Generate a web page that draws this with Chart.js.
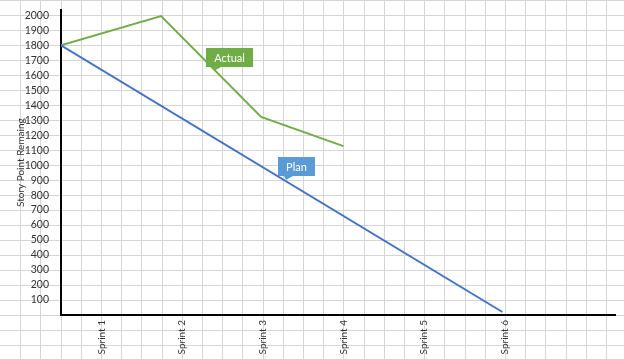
<!DOCTYPE html>
<html><head><meta charset="utf-8">
<script src="https://cdn.jsdelivr.net/npm/chart.js@4"></script>
<style>html,body{margin:0;padding:0;background:#fff}#wrap{width:624px;height:359px;position:relative}</style>
</head><body><div id="wrap"><canvas id="c" width="624" height="359"></canvas></div>
<script>
// ---- data ----
const sprintLabels = ['Sprint 1', 'Sprint 2', 'Sprint 3', 'Sprint 4', 'Sprint 5', 'Sprint 6'];
const sprintPositions = [0.5, 1.5, 2.5, 3.5, 4.5, 5.5];
const yTickValues = [100, 200, 300, 400, 500, 600, 700, 800, 900, 1000, 1100, 1200, 1300, 1400, 1500, 1600, 1700, 1800, 1900, 2000];
const planX = [0, 5.47];
const planY = [1800, 20];
const actualX = [0, 1.24, 2.48, 3.5];
const actualY = [1800, 1995, 1322, 1127];
const calloutTexts = ['Actual', 'Plan'];

// ---- styling / annotation placement ----
const FONT = 'Lato';
const calloutStyle = [
  {x: 1.8, y: 1653, color: '#70ad47'},
  {x: 2.69, y: 927, color: '#5b9bd5'}
];

const sheetGrid = {
  id: 'sheetGrid',
  beforeDraw(chart) {
    const ctx = chart.ctx;
    ctx.save();
    ctx.fillStyle = '#fff';
    ctx.fillRect(0, 0, chart.width, chart.height);
    ctx.strokeStyle = '#d6d6d6';
    ctx.lineWidth = 1;
    ctx.beginPath();
    for (let k = 1; 20.2 * k < chart.width; k++) {
      const x = Math.round(20.2 * k) + 0.5;
      ctx.moveTo(x, 0); ctx.lineTo(x, chart.height);
    }
    for (let k = 0; 15 * k < chart.height; k++) {
      const y = 15 * k + 0.5;
      ctx.moveTo(0, y); ctx.lineTo(chart.width, y);
    }
    ctx.stroke();
    ctx.restore();
  }
};

const callouts = {
  id: 'callouts',
  afterDatasetsDraw(chart) {
    const ctx = chart.ctx;
    const xs = chart.scales.x, ys = chart.scales.y;
    ctx.save();
    ctx.font = '11px ' + FONT;
    calloutTexts.forEach((t, i) => {
      const st = calloutStyle[i];
      const left = Math.round(xs.getPixelForValue(st.x));
      const bottom = Math.round(ys.getPixelForValue(st.y));
      const w = Math.round(ctx.measureText(t).width + 16);
      const h = 19;
      ctx.fillStyle = st.color;
      ctx.fillRect(left, bottom - h, w, h);
      ctx.beginPath();
      ctx.moveTo(left + 6, bottom);
      ctx.lineTo(left + 15, bottom);
      ctx.lineTo(left + 8, bottom + 4);
      ctx.closePath();
      ctx.fill();
      ctx.fillStyle = '#fff';
      ctx.textAlign = 'center';
      ctx.textBaseline = 'middle';
      ctx.fillText(t, left + w / 2, bottom - h / 2 + 0.5);
    });
    ctx.restore();
  }
};

const toPts = (xa, ya) => xa.map((x, i) => ({x: x, y: ya[i]}));

new Chart(document.getElementById('c'), {
  type: 'scatter',
  data: {
    datasets: [
      {label: 'Plan', data: toPts(planX, planY), showLine: true, borderColor: '#4472c4', borderWidth: 2, pointRadius: 0, fill: false, tension: 0},
      {label: 'Actual', data: toPts(actualX, actualY), showLine: true, borderColor: '#70ad47', borderWidth: 2, pointRadius: 0, fill: false, tension: 0}
    ]
  },
  options: {
    responsive: false,
    animation: false,
    layout: {padding: {top: 10, right: 9, left: 0, bottom: 0}},
    plugins: {legend: {display: false}, tooltip: {enabled: false}},
    scales: {
      x: {
        type: 'linear', min: 0, max: 6.865,
        grid: {display: false},
        border: {display: true, color: '#000', width: 2},
        afterBuildTicks: s => { s.ticks = sprintPositions.map(v => ({value: v})); },
        ticks: {
          autoSkip: false, minRotation: 90, maxRotation: 90, padding: -3, color: '#333',
          font: {family: FONT, size: 10},
          callback: v => { const i = sprintPositions.indexOf(v); return i >= 0 ? sprintLabels[i] : ''; }
        },
        afterFit: s => { s.height = 44; }
      },
      y: {
        type: 'linear', min: 0, max: 2033.3,
        grid: {display: false},
        border: {display: true, color: '#000', width: 2},
        afterBuildTicks: s => { s.ticks = yTickValues.map(v => ({value: v})); },
        ticks: {padding: 4, color: '#333', font: {family: FONT, size: 10.5}, callback: v => String(v)},
        title: {display: true, text: 'Story Point Remaing', color: '#333', font: {family: FONT, size: 10}, padding: {top: 15, bottom: 0}},
        afterFit: s => { s.width = 61; }
      }
    }
  },
  plugins: [sheetGrid, callouts]
});
</script>
</body></html>
